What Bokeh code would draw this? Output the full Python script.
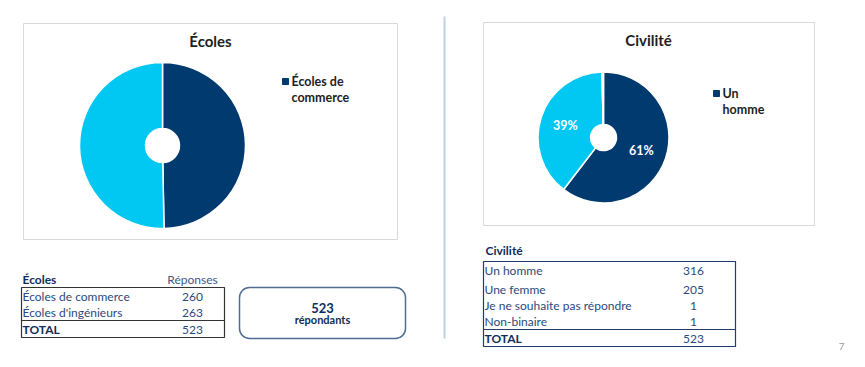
import math
from bokeh.plotting import figure
from bokeh.models import Range1d, BoxAnnotation
from bokeh.core.properties import value
from bokeh.embed import file_html
from bokeh.resources import INLINE

# ---------------- data ----------------
ecoles_title = "Écoles"
ecoles_labels = ["Écoles de commerce", "Écoles d'ingénieurs"]
ecoles_values = [260, 263]
ecoles_legend = ["Écoles de", "commerce"]

civ_title = "Civilité"
civ_labels = ["Un homme", "Une femme", "Je ne souhaite pas répondre", "Non-binaire"]
civ_values = [316, 205, 1, 1]
civ_legend = ["Un", "homme"]

respondents = 523
page_number = "7"

# ---------------- style ----------------
DARK = "#003a6f"
CYAN = "#00c8f2"
SMALL1 = "#ffffff"
SMALL2 = "#ffffff"
TXT = "#1e1e1e"
NAVY = "#102d57"
BODY = "#2b4a7b"
FONT = value("Lato")

p = figure(width=849, height=351, x_range=Range1d(0, 849), y_range=Range1d(-351, 0),
           output_backend="svg", toolbar_location=None, min_border=0,
           x_axis_type=None, y_axis_type=None)
p.grid.visible = False
p.outline_line_color = None
p.background_fill_color = "white"
p.border_fill_color = "white"


def Y(v):
    return -v


def txt(x, y, t, size="12px", color=TXT, bold=False, align="left"):
    p.text(x=[x], y=[Y(y)], text=[t], text_font=FONT, text_font_size=size,
           text_color=color, text_font_style="bold" if bold else "normal",
           text_align=align, text_baseline="middle")


def donut(cx, cy, r_out, r_in, values, colors):
    total = sum(values)
    cum = 0.0
    starts, ends = [], []
    for v in values:
        starts.append(math.pi / 2 - 2 * math.pi * cum / total)
        cum += v
        ends.append(math.pi / 2 - 2 * math.pi * cum / total)
    p.annular_wedge(x=[cx] * len(values), y=[Y(cy)] * len(values), inner_radius=r_in,
                    outer_radius=r_out, start_angle=starts, end_angle=ends,
                    direction="clock", fill_color=colors, line_color="white", line_width=1.5)
    return starts, ends


# ---------------- chart boxes ----------------
p.quad(left=[23, 483], right=[397, 814], top=[Y(23), Y(22)], bottom=[Y(239), Y(225)],
       fill_color="white", line_color="#d9d9d9", line_width=1)

# separator line
p.line(x=[444, 444], y=[Y(16), Y(338)], line_color="#bfd0e2", line_width=2)

# ---------------- Écoles donut ----------------
txt(210, 40, ecoles_title, size="15px", bold=True, align="center")
donut(162, 145, 83, 17, ecoles_values, [DARK, CYAN])
p.scatter(x=[285], y=[Y(81)], marker="square", size=6, fill_color=DARK, line_color=DARK)
txt(291, 81, ecoles_legend[0], size="12.5px", bold=True)
txt(291, 97, ecoles_legend[1], size="12.5px", bold=True)

# ---------------- Civilité donut ----------------
txt(648, 39, civ_title, size="15px", bold=True, align="center")
cx2, cy2 = 603, 137
s2, e2 = donut(cx2, cy2, 65.5, 13, civ_values, [DARK, CYAN, SMALL1, SMALL2])
# percentages shown on the chart are shares of the two labelled answers
tot_main = civ_values[0] + civ_values[1]
for i in range(2):
    mid = (s2[i] + e2[i]) / 2
    pct = f"{round(100 * civ_values[i] / tot_main)}%"
    txt(cx2 + 40 * math.cos(mid), cy2 - 40 * math.sin(mid), pct, size="12.5px",
        color="white", bold=True, align="center")
p.scatter(x=[716], y=[Y(93)], marker="square", size=6, fill_color=DARK, line_color=DARK)
txt(722, 93, civ_legend[0], size="12.5px", bold=True)
txt(722, 109, civ_legend[1], size="12.5px", bold=True)

# ---------------- Écoles table ----------------
txt(22, 279, ecoles_title, size="12px", color=NAVY, bold=True)
txt(192, 279, "Réponses", size="12px", color="#3b5a88", align="center")
p.quad(left=[21], right=[224], top=[Y(287)], bottom=[Y(337)], fill_color=None,
       line_color="#333333", line_width=1.2)
p.segment(x0=[21], x1=[224], y0=[Y(320)], y1=[Y(320)], line_color="#333333", line_width=1.2)
row_y1 = [296, 312]
for lab, v, yy in zip(ecoles_labels, ecoles_values, row_y1):
    txt(22, yy, lab, size="12px", color=BODY)
    txt(192, yy, str(v), size="12px", color=BODY, align="center")
txt(22, 329, "TOTAL", size="12px", color=NAVY, bold=True)
txt(192, 329, str(sum(ecoles_values)), size="12px", color=BODY, align="center")

# respondents box
box = BoxAnnotation(left=239, right=405, top=Y(287), bottom=Y(338), fill_color="white",
                    fill_alpha=1, line_color="#4f6d93", line_alpha=1, line_width=1.5,
                    border_radius=10, level="underlay")
p.add_layout(box)
txt(322, 307, str(respondents), size="13px", color=NAVY, bold=True, align="center")
txt(322, 319, "répondants", size="11px", color=NAVY, bold=True, align="center")

# ---------------- Civilité table ----------------
txt(485, 250, civ_title, size="12px", color=NAVY, bold=True)
p.quad(left=[483], right=[735], top=[Y(261)], bottom=[Y(346)], fill_color=None,
       line_color="#1f3d66", line_width=1.2)
p.segment(x0=[483], x1=[735], y0=[Y(329)], y1=[Y(329)], line_color="#1f3d66", line_width=1.2)
row_y2 = [270, 289, 305, 321]
for lab, v, yy in zip(civ_labels, civ_values, row_y2):
    txt(484, yy, lab, size="12px", color=BODY)
    txt(693, yy, str(v), size="12px", color=BODY, align="center")
txt(484, 338, "TOTAL", size="12px", color=NAVY, bold=True)
txt(693, 338, str(sum(civ_values)), size="12px", color=BODY, align="center")

txt(844, 346, page_number, size="10px", color="#9a9a9a", align="right")

open("out.html", "w").write(file_html(p, INLINE))
